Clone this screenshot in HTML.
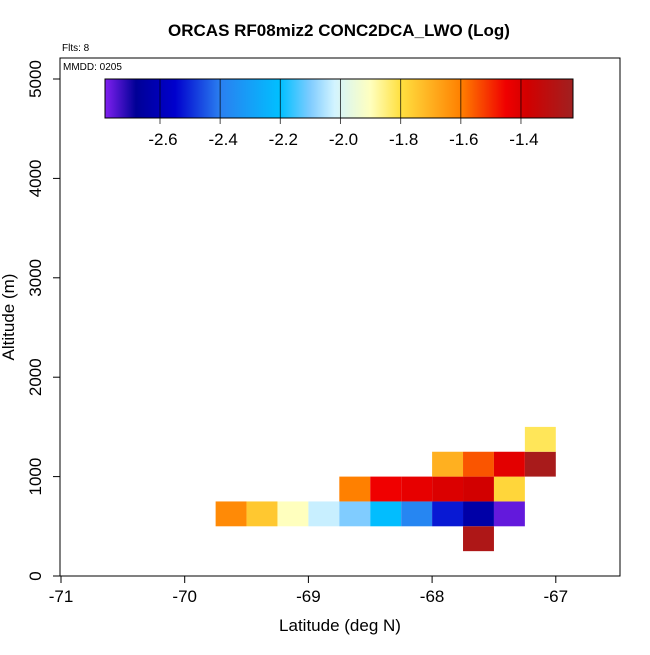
<!DOCTYPE html>
<html><head><meta charset="utf-8"><style>
body{margin:0;background:#fff;font-family:"Liberation Sans",sans-serif}
</style></head><body>
<svg id="c" width="650" height="650" xmlns="http://www.w3.org/2000/svg" font-family="Liberation Sans, sans-serif">
<text x="339" y="36" text-anchor="middle" font-weight="bold" font-size="17">ORCAS RF08miz2 CONC2DCA_LWO (Log)</text>
<text x="62" y="51" font-size="10">Flts: 8</text>
<rect x="60" y="58" width="560" height="518" fill="none" stroke="#000"/>
<text x="63" y="70" font-size="10">MMDD: 0205</text>
<g id="cells"></g><g id="axes"></g><g id="cbar"></g>
<text x="340" y="631" text-anchor="middle" font-size="17">Latitude (deg N)</text>
<text transform="translate(14,317) rotate(-90)" text-anchor="middle" font-size="17">Altitude (m)</text>
</svg>
<script>
const xTicks=[-71,-70,-69,-68,-67];
const yTicks=[0,1000,2000,3000,4000,5000];
const cbTicks=[-2.6,-2.4,-2.2,-2.0,-1.8,-1.6,-1.4];
const cellLat=[-69.75,-69.5,-69.25,-69,-68.75,-68.5,-68.25,-68,-67.75,-67.5,
 -68.75,-68.5,-68.25,-68,-67.75,-67.5,
 -68,-67.75,-67.5,-67.25,
 -67.25,
 -67.75];
const cellAlt=[500,500,500,500,500,500,500,500,500,500,
 750,750,750,750,750,750,
 1000,1000,1000,1000,
 1250,
 250];
const cellVal=[-1.62,-1.75,-1.9,-2.03,-2.1,-2.21,-2.38,-2.52,-2.64,-2.76,
 -1.6,-1.45,-1.43,-1.4,-1.38,-1.78,
 -1.7,-1.55,-1.42,-1.25,
 -1.82,
 -1.27];
const X=v=>61+(v+71)*123.7, Y=v=>576-v*0.0994;
const CB=v=>160+(v+2.6)*300.8;
const cbMin=-2.783, cbMax=-1.227;
const stops=[[-2.783,[128,32,240]],[-2.68,[0,0,150]],[-2.55,[0,0,205]],[-2.4,[42,127,240]],[-2.2,[0,192,255]],[-2.1,[128,204,255]],[-2.02,[210,244,255]],[-1.9,[255,255,190]],[-1.8,[255,224,64]],[-1.6,[255,128,0]],[-1.45,[240,0,0]],[-1.38,[210,0,0]],[-1.227,[160,32,32]]];
function col(v){if(v<=stops[0][0])return stops[0][1];for(let i=1;i<stops.length;i++){if(v<=stops[i][0]){const a=stops[i-1],b=stops[i],t=(v-a[0])/(b[0]-a[0]);return a[1].map((c,k)=>Math.round(c+(b[1][k]-c)*t));}}return stops[stops.length-1][1];}
const ns="http://www.w3.org/2000/svg";
function mk(t,a,p){const e=document.createElementNS(ns,t);for(const k in a)e.setAttribute(k,a[k]);p.appendChild(e);return e;}
const cells=document.getElementById('cells');
for(let i=0;i<cellVal.length;i++){const c=col(cellVal[i]);
 const r=mk('rect',{x:X(cellLat[i]),y:Y(cellAlt[i]+250),width:X(cellLat[i]+0.25)-X(cellLat[i]),height:Y(cellAlt[i])-Y(cellAlt[i]+250),fill:`rgb(${c})`},cells);
 
 }
const ax=document.getElementById('axes');
mk('line',{x1:X(-71),x2:X(-67),y1:576,y2:576,stroke:'#000'},ax);
xTicks.forEach(v=>{mk('line',{x1:X(v),x2:X(v),y1:576,y2:583,stroke:'#000'},ax);
 const t=mk('text',{x:X(v),y:602,'text-anchor':'middle','font-size':17},ax);t.textContent=v;
 
 });
yTicks.forEach(v=>{mk('line',{x1:53,x2:60,y1:Y(v),y2:Y(v),stroke:'#000'},ax);
 const t=mk('text',{x:0,y:0,'text-anchor':'middle','font-size':17,transform:`translate(41,${Y(v)}) rotate(-90)`},ax);t.textContent=v;
 
 });
const cb=document.getElementById('cbar');
const defs=mk('defs',{},cb);const g=mk('linearGradient',{id:'gr',x1:0,x2:1,y1:0,y2:0},defs);
stops.forEach(s=>mk('stop',{offset:(s[0]-cbMin)/(cbMax-cbMin),'stop-color':`rgb(${s[1]})`},g));
const bar=mk('rect',{x:105,y:79,width:468,height:39,fill:'url(#gr)',stroke:'#000'},cb);


cbTicks.forEach(v=>{mk('line',{x1:CB(v),x2:CB(v),y1:79,y2:124,stroke:'#000','stroke-opacity':0.7},cb);
 const t=mk('text',{x:CB(v)+3,y:145,'text-anchor':'middle','font-size':17},cb);t.textContent=v.toFixed(1);
 
 });
</script>
</body></html>
